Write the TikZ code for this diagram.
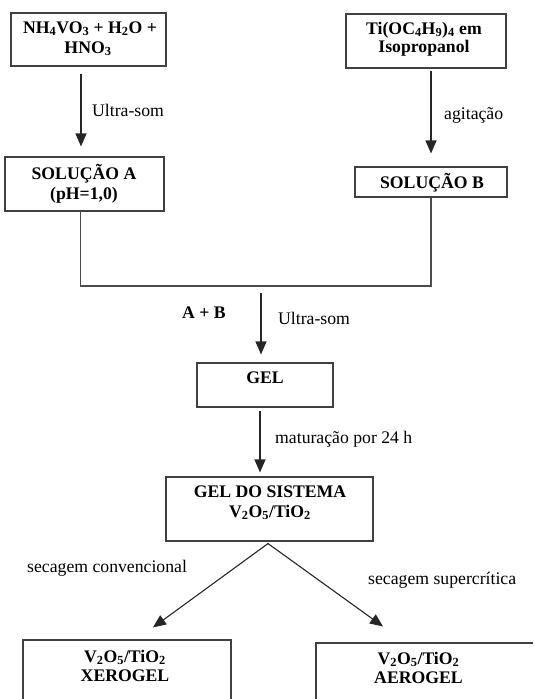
\documentclass[tikz,border=0pt]{standalone}
\usepackage{fontspec}
\setmainfont{Liberation Serif}
\usetikzlibrary{arrows.meta}
\begin{document}
\begin{tikzpicture}[x=1pt,y=-1pt,
  txt/.style={inner sep=0pt, font=\fontsize{17.7}{20}\selectfont},
  btxt/.style={txt, anchor=base, font=\fontsize{17.7}{20}\selectfont\bfseries},
  box/.style={draw=black!75, line width=1.1pt, inner sep=0pt},
  arr/.style={draw=black!85, line width=1.1pt, -{Triangle[width=11pt,length=13pt]}},
  ln/.style={draw=black!70, line width=1.1pt}]
\useasboundingbox (0,0) rectangle (533,699);
\clip (0,0) rectangle (533,699);
% boxes
\node[box, minimum width=155pt, minimum height=53pt] (b1) at (88.5,39.5) {};
\node[box, minimum width=160pt, minimum height=54pt] (b2) at (426,41) {};
\node[box, minimum width=159pt, minimum height=54pt] (sa) at (84.5,184) {};
\node[box, minimum width=152pt, minimum height=30pt] (sb) at (431,182) {};
\node[box, minimum width=136pt, minimum height=44pt] (gel) at (265,385) {};
\node[box, minimum width=207pt, minimum height=64pt] (gds) at (269.5,509) {};
\node[box, minimum width=208pt, minimum height=100pt] (xer) at (127,690) {};
\node[box, minimum width=230pt, minimum height=100pt] (aer) at (431,693) {};
% box texts
\node[btxt] (t1a) at (90,33) {NH\textsubscript{4}VO\textsubscript{3} + H\textsubscript{2}O +};
\node[btxt] (t1b) at (88,53) {HNO\textsubscript{3}};
\node[btxt] (t2a) at (424,34) {Ti(OC\textsubscript{4}H\textsubscript{9})\textsubscript{4} em};
\node[btxt] (t2b) at (424,52) {Isopropanol};
\node[btxt] (t3a) at (84,179) {SOLUÇÃO A};
\node[btxt] (t3b) at (84,199) {(pH=1,0)};
\node[btxt] (t4) at (432,188) {SOLUÇÃO B};
\node[btxt] (t5) at (265,383) {GEL};
\node[btxt] (t6a) at (270,497) {GEL DO SISTEMA};
\node[btxt] (t6b) at (270,517) {V\textsubscript{2}O\textsubscript{5}/TiO\textsubscript{2}};
\node[btxt] (t7a) at (125,662) {V\textsubscript{2}O\textsubscript{5}/TiO\textsubscript{2}};
\node[btxt] (t7b) at (125,681) {XEROGEL};
\node[btxt] (t8a) at (418.5,664) {V\textsubscript{2}O\textsubscript{5}/TiO\textsubscript{2}};
\node[btxt] (t8b) at (418.5,683) {AEROGEL};
% connectors
\draw[arr, shorten <=7pt, shorten >=10pt] ([xshift=-7.5pt]b1.south) -- ([xshift=-3.5pt]sa.north);
\draw[arr, shorten <=2pt, shorten >=13pt] ([xshift=5pt]b2.south) -- (sb.north);
\coordinate (m) at (261,286);
\draw[ln] ([xshift=-4pt]sa.south) |- (m) -| (sb.south);
\draw[arr, shorten <=7pt, shorten >=8pt] (m) -- ([xshift=-4pt]gel.north);
\draw[arr, shorten <=3pt, shorten >=4pt] ([xshift=-5pt]gel.south) -- ([xshift=-9.5pt]gds.north);
\draw[arr] ([xshift=-1.5pt,yshift=-2pt]gds.south) -- ([xshift=26pt,yshift=12pt]xer.north);
\draw[arr] ([xshift=-1.5pt,yshift=-2pt]gds.south) -- ([xshift=-48pt,yshift=16pt]aer.north);
% labels
\node[txt, anchor=west] (l1) at (92,110) {Ultra-som};
\node[txt, anchor=west] (l2) at (444,115) {agitação};
\node[btxt, anchor=center] (l3) at (204,313) {A + B};
\node[txt, anchor=west] (l4) at (278,318) {Ultra-som};
\node[txt, anchor=west] (l5) at (275,439) {maturação por 24 h};
\node[txt, anchor=west] (l6) at (27,568) {secagem convencional};
\node[txt, anchor=west] (l7) at (368,580) {secagem supercrítica};
\end{tikzpicture}
\end{document}
